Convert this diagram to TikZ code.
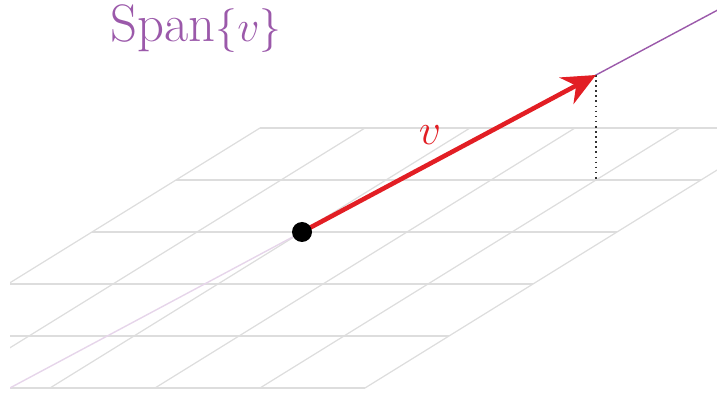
\documentclass[tikz,border=0pt]{standalone}
\usetikzlibrary{arrows.meta}
\definecolor{spanpurple}{RGB}{155,89,170}
\definecolor{vecred}{RGB}{226,30,36}
\definecolor{gridgray}{RGB}{221,221,221}
\begin{document}
\begin{tikzpicture}[x={(2.1cm,0cm)}, y={(1.68cm,1.04cm)}, z={(0cm,2.1cm)},
    gridline/.style={draw=gridgray, line width=0.7pt},
    spanline/.style={draw=spanpurple, line width=0.8pt},
    vecdot/.style={circle, fill=black, inner sep=0pt, minimum size=0.4cm}]
  \useasboundingbox (3.2cm,-0.12cm) rectangle (17.54cm,7.76cm);
  \coordinate (base) at (2,3,0);
  \coordinate (tip) at (4,4,1);
  \coordinate (foot) at (4,4,0);
  \coordinate (spanlow) at (0,2,-1);
  \coordinate (spanhigh) at (5,4.5,1.5);
  \begin{scope}
    \clip (3.4cm,-0.12cm) rectangle (17.54cm,7.76cm);
    \foreach \i in {0,...,5} {
      \draw [gridline] (0,\i,0) -- (5,\i,0);
      \draw [gridline] (\i,0,0) -- (\i,5,0);
    }
    \draw [spanline, draw=spanpurple!25] (spanlow) -- (base);
    \draw [spanline] (base) -- (spanhigh);
  \end{scope}
  \draw [dotted, line width=0.9pt, black!80] (tip) -- (foot);
  \draw [vecred, line width=2.6pt, -{Stealth[length=19pt, width=17pt]}] (base) -- (tip)
        node[midway, xshift=-0.38cm, yshift=0.36cm, font=\fontsize{28}{30}\selectfont] (vlabel) {$v$};
  \node [vecdot] (basedot) at (base) {};
  \node [text=spanpurple, font=\fontsize{30}{34}\selectfont] (spanlabel) at (7.12cm,7.18cm)
        {Span$\{v\}$};
\end{tikzpicture}
\end{document}
